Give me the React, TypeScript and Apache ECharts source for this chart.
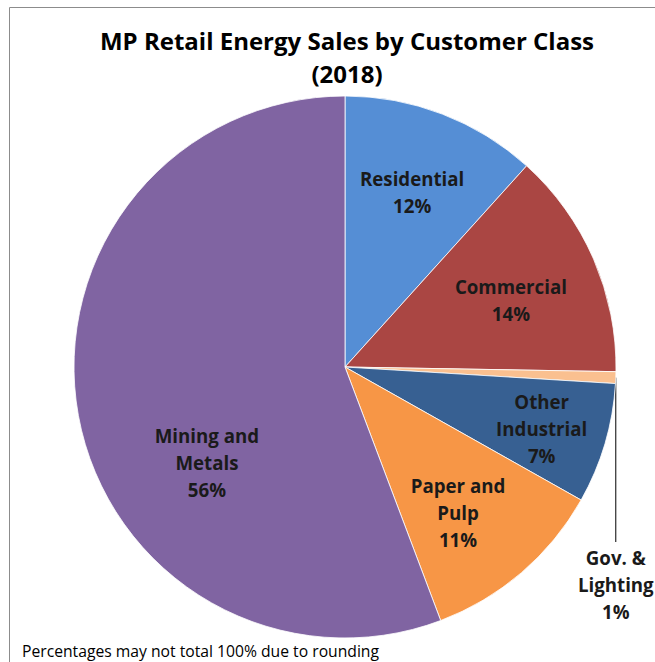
import React, { useEffect, useRef } from "react";
import * as echarts from "echarts";

const categories = ["Residential", "Commercial", "Gov. &\nLighting", "Other\nIndustrial", "Paper and\nPulp", "Mining and\nMetals"];
const shares = [11.7, 13.6, 0.7, 7.2, 11.1, 55.8];
const colors = ["#558ED5", "#AA4643", "#FAC090", "#376092", "#F79646", "#8064A2"];
const titleLines = ["MP Retail Energy Sales by Customer Class", "(2018)"];
const footnote = "Percentages may not total 100% due to rounding";

// label placement (fraction of radius, angle adjust in degrees); 0 radius = outside label
const labelRadius = [0.69, 0.66, 0, 0.76, 0.68, 0.62];
const labelAngleAdjust = [0, 1.5, 0, 0.8, 2.8, -24.4];

const CX = 345;
const CY = 367;
const R = 271;

export default function App() {
  const ref = useRef<HTMLDivElement>(null);
  useEffect(() => {
    if (!ref.current) return;
    const chart = echarts.init(ref.current, undefined, { renderer: "svg" });
    const total = shares.reduce((a, b) => a + b, 0);
    const midAngles: number[] = [];
    let acc = 0;
    shares.forEach((v) => {
      midAngles.push(((acc + v / 2) / total) * 360);
      acc += v;
    });
    const font = "'Open Sans', Lato, sans-serif";
    chart.setOption({
      animation: false,
      backgroundColor: "#ffffff",
      graphic: [
        {
          type: "rect",
          shape: { x: 9.5, y: 7.5, width: 700, height: 700 },
          style: { fill: "none", stroke: "#8c8c8c", lineWidth: 1 },
          silent: true,
        },
        {
          type: "text",
          x: 347,
          y: 40,
          style: {
            text: titleLines[0],
            font: `bold 24px ${font}`,
            fill: "#000",
            align: "center",
            verticalAlign: "middle",
          },
        },
        {
          type: "text",
          x: 347,
          y: 73,
          style: {
            text: titleLines[1],
            font: `bold 24px ${font}`,
            fill: "#000",
            align: "center",
            verticalAlign: "middle",
          },
        },
        {
          type: "text",
          x: 22,
          y: 651,
          style: {
            text: footnote,
            font: `15.7px ${font}`,
            fill: "#000",
            align: "left",
            verticalAlign: "middle",
          },
        },
      ],
      series: [
        {
          type: "pie",
          center: [CX, CY],
          radius: R,
          startAngle: 90,
          clockwise: true,
          avoidLabelOverlap: false,
          itemStyle: { borderColor: "#ffffff", borderWidth: 0.8 },
          label: {
            show: true,
            position: "outside",
            formatter: (p: any) => `${p.name}\n${Math.round(p.value)}%`,
            fontFamily: font,
            fontWeight: "bold",
            fontSize: 18.7,
            lineHeight: 27,
            color: "#1a1a1a",
            align: "center",
          },
          labelLine: {
            show: true,
            length: 20,
            length2: 10,
            lineStyle: { color: "#000", width: 1 },
          },
          labelLayout: (params: any) => {
            const i = params.dataIndex;
            if (labelRadius[i] > 0) {
              const a = ((midAngles[i] + labelAngleAdjust[i]) * Math.PI) / 180;
              return {
                x: CX + R * labelRadius[i] * Math.sin(a),
                y: CY - R * labelRadius[i] * Math.cos(a),
                align: "center",
                verticalAlign: "middle",
              };
            }
            const a = (midAngles[i] * Math.PI) / 180;
            const x0 = CX + R * Math.sin(a);
            const y0 = CY - R * Math.cos(a);
            return {
              x: x0,
              y: 584,
              align: "center",
              verticalAlign: "middle",
              labelLinePoints: [
                [x0, y0],
                [x0, 542],
                [x0, 542],
              ],
            };
          },
          data: categories.map((name, i) => ({
            name,
            value: shares[i],
            itemStyle: { color: colors[i] },
            labelLine: { show: labelRadius[i] === 0 },
          })),
        },
      ],
    });
    return () => chart.dispose();
  }, []);
  return (
    <div
      ref={ref}
      style={{ position: "fixed", left: 0, top: 0, width: 655, height: 662 }}
    />
  );
}
